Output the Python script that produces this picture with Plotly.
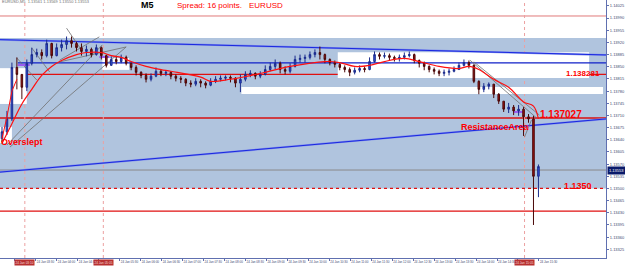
import plotly.graph_objects as go

# ---------------- data ----------------
first_open = 1.13643
closes = [
    1.13663, 1.13700, 1.13848, 1.13828, 1.13791, 1.13860, 1.13885, 1.13891, 1.13882, 1.13917,
    1.13882, 1.13905, 1.13914, 1.13925, 1.13917, 1.13905, 1.13894, 1.13900, 1.13885, 1.13905,
    1.13882, 1.13854, 1.13871, 1.13865, 1.13877, 1.13860, 1.13848, 1.13834, 1.13825, 1.13814,
    1.13823, 1.13837, 1.13831, 1.13834, 1.13823, 1.13817, 1.13814, 1.13803, 1.13800, 1.13808,
    1.13803, 1.13797, 1.13808, 1.13814, 1.13817, 1.13820, 1.13817, 1.13803, 1.13814, 1.13828,
    1.13831, 1.13823, 1.13828, 1.13842, 1.13851, 1.13860, 1.13842, 1.13837, 1.13851, 1.13871,
    1.13874, 1.13877, 1.13885, 1.13891, 1.13885, 1.13871, 1.13862, 1.13857, 1.13848, 1.13842,
    1.13834, 1.13840, 1.13845, 1.13842, 1.13865, 1.13885, 1.13880, 1.13882, 1.13877, 1.13874,
    1.13877, 1.13882, 1.13885, 1.13868, 1.13860, 1.13851, 1.13842, 1.13837, 1.13831, 1.13834,
    1.13837, 1.13842, 1.13854, 1.13862, 1.13854, 1.13808, 1.13785, 1.13794, 1.13800, 1.13771,
    1.13751, 1.13728, 1.13734, 1.13723, 1.13728, 1.13706, 1.13700, 1.13535, 1.13563,
]
highs = [
    1.13677, 1.13723, 1.13862, 1.13877, 1.13825, 1.13871, 1.13905, 1.13902, 1.13900, 1.13928,
    1.13919, 1.13917, 1.13928, 1.13937, 1.13937, 1.13922, 1.13917, 1.13911, 1.13905, 1.13914,
    1.13908, 1.13885, 1.13880, 1.13880, 1.13885, 1.13882, 1.13862, 1.13854, 1.13837, 1.13831,
    1.13831, 1.13848, 1.13842, 1.13840, 1.13837, 1.13828, 1.13823, 1.13817, 1.13811, 1.13817,
    1.13814, 1.13808, 1.13817, 1.13823, 1.13825, 1.13825, 1.13825, 1.13820, 1.13828, 1.13837,
    1.13840, 1.13834, 1.13837, 1.13854, 1.13862, 1.13871, 1.13865, 1.13851, 1.13860, 1.13882,
    1.13885, 1.13885, 1.13894, 1.13900, 1.13908, 1.13888, 1.13874, 1.13868, 1.13860, 1.13854,
    1.13848, 1.13848, 1.13854, 1.13851, 1.13877, 1.13894, 1.13891, 1.13891, 1.13888, 1.13882,
    1.13885, 1.13891, 1.13894, 1.13888, 1.13871, 1.13865, 1.13854, 1.13848, 1.13842, 1.13842,
    1.13845, 1.13851, 1.13862, 1.13871, 1.13868, 1.13857, 1.13811, 1.13803, 1.13805, 1.13800,
    1.13774, 1.13751, 1.13746, 1.13740, 1.13740, 1.13734, 1.13714, 1.13709, 1.13569,
]
lows = [
    1.13634, 1.13654, 1.13694, 1.13785, 1.13757, 1.13780, 1.13854, 1.13877, 1.13871, 1.13877,
    1.13874, 1.13880, 1.13894, 1.13900, 1.13905, 1.13894, 1.13882, 1.13880, 1.13877, 1.13882,
    1.13871, 1.13848, 1.13854, 1.13857, 1.13860, 1.13854, 1.13840, 1.13825, 1.13817, 1.13805,
    1.13808, 1.13820, 1.13823, 1.13823, 1.13814, 1.13808, 1.13803, 1.13794, 1.13791, 1.13794,
    1.13791, 1.13788, 1.13794, 1.13803, 1.13808, 1.13811, 1.13805, 1.13791, 1.13777, 1.13808,
    1.13820, 1.13814, 1.13817, 1.13825, 1.13837, 1.13842, 1.13831, 1.13828, 1.13831, 1.13848,
    1.13862, 1.13862, 1.13871, 1.13877, 1.13871, 1.13860, 1.13854, 1.13848, 1.13840, 1.13834,
    1.13823, 1.13828, 1.13834, 1.13834, 1.13840, 1.13862, 1.13871, 1.13874, 1.13868, 1.13865,
    1.13865, 1.13871, 1.13877, 1.13860, 1.13848, 1.13840, 1.13834, 1.13828, 1.13823, 1.13823,
    1.13825, 1.13834, 1.13842, 1.13851, 1.13845, 1.13803, 1.13771, 1.13777, 1.13785, 1.13760,
    1.13743, 1.13720, 1.13717, 1.13711, 1.13709, 1.13651, 1.13689, 1.13395, 1.13475,
]
opens = [first_open] + closes[:-1]
bar_idx = list(range(len(closes)))

# moving averages (bar index, price)
ma_idx = [0, 2, 4, 6, 8, 10, 12, 15, 17, 20, 22, 24, 26, 29, 32, 34, 40, 42, 46, 53, 58,
          65, 68, 71, 74, 77, 81, 84, 88, 92, 94, 96, 99, 102, 105, 107, 108]
ma_val = [1.13629, 1.13686, 1.13743, 1.13785, 1.13825, 1.13851, 1.13868, 1.13885, 1.13891,
          1.13891, 1.13882, 1.13877, 1.13865, 1.13851, 1.13842, 1.13837, 1.13820, 1.13808,
          1.13814, 1.13834, 1.13851, 1.13865, 1.13862, 1.13851, 1.13854, 1.13865, 1.13874,
          1.13865, 1.13851, 1.13845, 1.13851, 1.13842, 1.13814, 1.13791, 1.13749, 1.13737,
          1.13700]
fast_ma_idx = [0, 1, 2, 3]
fast_ma_val = [1.13643, 1.13706, 1.13780, 1.13814]

# horizontal levels
level_top_red = 1.13996
level_1 = 1.138281
level_2 = 1.137027
level_3 = 1.13500
level_low_red = 1.13435
level_blue = 1.13861
bid_price = 1.13553

# trend lines: (bar0, price0, bar1, price1)
blue_trends = [(-0.4, 1.13928, 121.6, 1.13884), (-0.4, 1.13547, 121.6, 1.13700)]
gray_trends = [
    (3.0, 1.13875, 7.0, 1.13812), (6.0, 1.13904, 9.6, 1.13835),
    (1.0, 1.13625, 20.2, 1.13913), (1.6, 1.13619, 25.0, 1.13907),
    (11.6, 1.13869, 19.6, 1.13936), (11.6, 1.13864, 25.0, 1.13907),
    (13.0, 1.13961, 16.0, 1.13898),
    (94.2, 1.13869, 107.6, 1.13703), (95.0, 1.13864, 108.2, 1.13711),
    (105.2, 1.13648, 106.6, 1.13697),
]
purple_segments = [(3.2, 5.6, 1.13855), (19.6, 21.6, 1.13878), (103.0, 105.0, 1.13720)]

# zones: big blue zone, and white cut-outs (bar0, bar1, price_top, price_bottom)
zone_top, zone_bottom = 1.13933, 1.13500
white_boxes = [
    (67.6, 118.2, 1.13892, 1.13818), (48.2, 121.0, 1.13792, 1.13772),
    (-0.4, 5.0, 1.13846, 1.13743), (20.2, 25.6, 1.13875, 1.13841),
    (-0.4, 2.0, 1.13677, 1.13631),
]
vlines = [4.6, 20.4, 105.2]
vline_labels = ["24 Jan 03:10", "24 Jan 05:05", "24 Jan 15:05"]

x_tick_labels = ["24 Jan %02d:%02d" % (3 + (30 * k) // 60, (30 * k) % 60) for k in range(26)]
hidden_ticks = [0, 4, 24]   # covered by the vertical-line time boxes
y_tick_vals = [1.14025, 1.13990, 1.13955, 1.13920, 1.13885, 1.13850, 1.13815, 1.13780,
               1.13745, 1.13710, 1.13675, 1.13640, 1.13605, 1.13570, 1.13535, 1.13500,
               1.13465, 1.13430, 1.13395, 1.13360, 1.13325]
y_tick_text = ["%.5f" % v for v in y_tick_vals]

# ---------------- figure ----------------
fig = go.Figure()
fig.add_trace(go.Candlestick(
    x=bar_idx, open=opens, high=highs, low=lows, close=closes,
    increasing=dict(line=dict(color="#1c2c8c", width=1), fillcolor="#3050e0"),
    decreasing=dict(line=dict(color="#4a0808", width=1), fillcolor="#a01010"),
    whiskerwidth=0, hoverinfo="skip", showlegend=False))
fig.add_trace(go.Scatter(x=ma_idx, y=ma_val, mode="lines", line=dict(color="#ff1010", width=1.2, shape="spline"),
                         hoverinfo="skip", showlegend=False))
fig.add_trace(go.Scatter(x=fast_ma_idx, y=fast_ma_val, mode="lines", line=dict(color="#ff1010", width=1),
                         hoverinfo="skip", showlegend=False))

shapes = []
ZONE = "#b0c4de"
shapes.append(dict(type="rect", xref="paper", yref="y", x0=0, x1=1, y0=zone_bottom, y1=zone_top,
                   fillcolor=ZONE, line=dict(width=0), layer="below"))
for b0, b1, p0, p1 in white_boxes:
    shapes.append(dict(type="rect", xref="x", yref="y", x0=b0, x1=b1, y0=p1, y1=p0,
                       fillcolor="white", line=dict(width=0), layer="below"))

def hline(p, color, width=1, dash="solid"):
    shapes.append(dict(type="line", xref="paper", yref="y", x0=0, x1=1,
                       y0=p, y1=p, line=dict(color=color, width=width, dash=dash), layer="below"))

hline(level_top_red, "#e07a7a", 1)
hline(level_1, "#e01010", 1.2)
hline(level_2, "#d81010", 1.5)
hline(level_3, "#e01010", 1.2, "dot")
hline(level_low_red, "#e01010", 1.2)
hline(bid_price, "#8a8a8a", 1)
shapes.append(dict(type="line", xref="x", yref="y", x0=3.2, x1=121.6, y0=level_blue, y1=level_blue,
                   line=dict(color="#1020c8", width=1.2), layer="below"))

for x in vlines:
    shapes.append(dict(type="line", xref="x", yref="paper", x0=x, x1=x, y0=0, y1=1,
                       line=dict(color="#eca0a0", width=1, dash="dot"), layer="below"))

for b0, p0, b1, p1 in blue_trends:
    shapes.append(dict(type="line", xref="x", yref="y", x0=b0, y0=p0, x1=b1, y1=p1,
                       line=dict(color="#8090ec", width=2.0), layer="below"))
    shapes.append(dict(type="line", xref="x", yref="y", x0=b0, y0=p0, x1=b1, y1=p1,
                       line=dict(color="#1a28e0", width=1.0), layer="below"))
for b0, p0, b1, p1 in gray_trends:
    shapes.append(dict(type="line", xref="x", yref="y", x0=b0, y0=p0, x1=b1, y1=p1,
                       line=dict(color="#707070", width=0.8), layer="below"))
for b0, b1, p in purple_segments:
    shapes.append(dict(type="line", xref="x", yref="y", x0=b0, y0=p, x1=b1, y1=p,
                       line=dict(color="#9a5cf0", width=2), layer="below"))

FONT = "Arial, Liberation Sans, sans-serif"
ann = []
def txt(text, x, y, xref="paper", yref="paper", size=8, color="#ff0000", xanchor="left", yanchor="middle",
        yshift=0, bgcolor=None, xshift=0, pad=1):
    d = dict(text=text, x=x, y=y, xref=xref, yref=yref, showarrow=False, xanchor=xanchor, yanchor=yanchor,
             font=dict(family=FONT, size=size, color=color), yshift=yshift, xshift=xshift, borderpad=0)
    if bgcolor:
        d["bgcolor"] = bgcolor
        d["borderpad"] = pad
    ann.append(d)

txt("EURUSD,M5  1.13561 1.13569 1.13550 1.13553", 0.002, 0.994, size=4, color="#707070")
txt("<b>M5</b>", 0.244, 0.98, size=9, color="#000000", xanchor="center")
txt("Spread: 16 points.", 0.290, 0.98, size=8)
txt("EURUSD", 0.410, 0.98, size=8)
txt("<b>1.138281</b>", 0.992, level_1, xref="paper", yref="y", size=8, xanchor="right", yshift=1)
txt("<b>1.137027</b>", 0.890, level_2, xref="paper", yref="y", size=10, yshift=3)
txt("<b>1.1350</b>", 0.9295, level_3, xref="paper", yref="y", size=9, yshift=2)
txt("<b>ResistanceArea</b>", 99.3, 1.13677, xref="x", yref="y", size=9, xanchor="center")
txt("<b>Overslept</b>", 0.0, 1.13634, xref="paper", yref="y", size=9)
txt("%.5f" % bid_price, 1.0, bid_price, xref="paper", yref="y", size=4, color="white",
    bgcolor="#0a1a6a", xshift=1)
for x, lab in zip(vlines, vline_labels):
    txt(lab, x, 0, xref="x", yref="paper", size=3.1, color="#f4dede", xanchor="center", yanchor="top",
        yshift=-1, bgcolor="#b83030", pad=0.5)

tick_step = 4.22
x_tick_vals = [2.6 + tick_step * k for k in range(len(x_tick_labels))]
x_tick_text = ["" if k in hidden_ticks else lab for k, lab in enumerate(x_tick_labels)]

fig.update_layout(
    width=625, height=267, margin=dict(l=0, r=15, t=0, b=9),
    paper_bgcolor="white", plot_bgcolor="white", showlegend=False,
    boxgap=0.55,
    shapes=shapes, annotations=ann,
    xaxis=dict(range=[-0.4, 121.6], showgrid=False, zeroline=False, showline=True, linecolor="#6070b0",
               linewidth=1, ticks="outside", ticklen=2, tickcolor="#6070b0", tickvals=x_tick_vals,
               ticktext=x_tick_text, tickangle=0, tickfont=dict(size=3, color="#404870", family=FONT),
               ticklabelposition="outside right", rangeslider=dict(visible=False)),
    yaxis=dict(range=[1.13300, 1.14042], side="right", showgrid=False, zeroline=False, showline=True,
               linecolor="#6070b0", linewidth=1, ticks="outside", ticklen=2, tickcolor="#6070b0",
               tickvals=y_tick_vals, ticktext=y_tick_text,
               tickfont=dict(size=4, color="#404870", family=FONT)),
)

fig.write_html("out.html")
